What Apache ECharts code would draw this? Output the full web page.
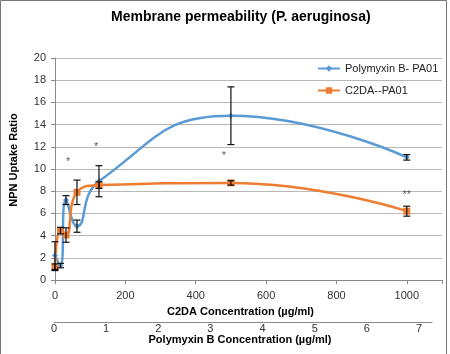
<!DOCTYPE html>
<html>
<head>
<meta charset="utf-8">
<script src="https://cdn.jsdelivr.net/npm/echarts@6/dist/echarts.min.js"></script>
<style>
  html, body, #main { width: 450px; height: 354px; margin: 0; background: #fff; }
</style>
</head>
<body>
<div id="main"></div>
<script>
// C2DA concentration (ug/ml) used as x for both series
var conc = [0, 15.6, 31.25, 62.5, 125, 500, 1000];
var polyVals = [2.2, 1.3, 7.2, 4.85, 8.9, 14.8, 11.05];
var polyErr = [1.25, 0.2, 0.4, 0.55, 1.4, 2.6, 0.25];
var c2daVals = [1.15, 4.45, 4.05, 7.9, 8.55, 8.75, 6.2];
var c2daErr = [0.3, 0.3, 0.65, 1.1, 0.3, 0.2, 0.45];

// significance marks
var starX = [37, 117, 480, 1000];
var starY = [10.6, 12.0, 11.2, 7.65];
var starText = ['*', '*', '*', '**'];

var font = 'Liberation Sans, Arial, sans-serif';

function pairs(xs, ys) {
  return xs.map(function (x, i) { return [x, ys[i]]; });
}

function errData(xs, ys, es) {
  return xs.map(function (x, i) { return [x, ys[i] - es[i], ys[i] + es[i]]; });
}

function errBars(params, api) {
  var lo = api.coord([api.value(0), api.value(1)]);
  var hi = api.coord([api.value(0), api.value(2)]);
  var w = 3.5;
  var st = { stroke: '#111', lineWidth: 1.2 };
  return {
    type: 'group',
    children: [
      { type: 'line', shape: { x1: lo[0], y1: lo[1], x2: hi[0], y2: hi[1] }, style: st },
      { type: 'line', shape: { x1: lo[0] - w, y1: lo[1], x2: lo[0] + w, y2: lo[1] }, style: st },
      { type: 'line', shape: { x1: hi[0] - w, y1: hi[1], x2: hi[0] + w, y2: hi[1] }, style: st }
    ]
  };
}

var chart = echarts.init(document.getElementById('main'));

var option = {
  animation: false,
  textStyle: { fontFamily: font },
  title: {
    text: 'Membrane permeability (P. aeruginosa)',
    left: 106, top: 5,
    textStyle: { fontSize: 14, fontWeight: 'bold', color: '#000', fontFamily: font }
  },
  legend: {
    orient: 'vertical',
    left: 312, top: 58,
    itemGap: 11,
    itemWidth: 22, itemHeight: 8,
    textStyle: { fontSize: 11, color: '#222' },
    data: ['Polymyxin B- PA01', 'C2DA--PA01']
  },
  grid: [
    { left: 55, right: 8, top: 58, bottom: 74 },
    { left: 54, width: 378, top: 321, height: 1 }
  ],
  xAxis: [{
    type: 'value', gridIndex: 0,
    min: 0, max: 1100, interval: 200,
    name: 'C2DA Concentration (µg/ml)',
    nameLocation: 'middle', nameGap: 26,
    nameTextStyle: { fontSize: 11, fontWeight: 'bold', color: '#000', padding: [0, 16, 0, 0] },
    axisLine: { lineStyle: { color: '#888' } },
    axisTick: { show: true, length: 4, lineStyle: { color: '#888' } },
    axisLabel: { fontSize: 11, color: '#333', margin: 10,
      formatter: function (v) { return v > 1000 ? '' : v; } },
    splitLine: { show: false }
  }, {
    type: 'value', gridIndex: 1,
    min: 0, max: 7.25, interval: 1,
    position: 'bottom',
    name: 'Polymyxin B Concentration (µg/ml)',
    nameLocation: 'middle', nameGap: 12,
    nameTextStyle: { fontSize: 11, fontWeight: 'bold', color: '#000', padding: [0, 6, 0, 0] },
    axisLine: { lineStyle: { color: '#888' } },
    axisTick: { show: false },
    axisLabel: { fontSize: 11, color: '#333', margin: 1,
      formatter: function (v) { return v > 7 ? '' : v; } },
    splitLine: { show: false }
  }],
  yAxis: [{
    type: 'value', gridIndex: 0,
    min: 0, max: 20, interval: 2,
    name: 'NPN Uptake Ratio',
    nameLocation: 'middle', nameGap: 36,
    nameTextStyle: { fontSize: 11, fontWeight: 'bold', color: '#000', padding: [0, 0, 0, 18] },
    axisLine: { show: true, lineStyle: { color: '#888' } },
    axisTick: { show: true, length: 4, lineStyle: { color: '#888' } },
    axisLabel: { fontSize: 11, color: '#333', margin: 9 },
    splitLine: { lineStyle: { color: '#b8b8b8', width: 1 } }
  }, {
    type: 'value', gridIndex: 1, show: false, min: 0, max: 1
  }],
  series: [{
    name: 'Polymyxin B- PA01',
    type: 'line',
    smooth: 0.5,
    data: pairs(conc, polyVals),
    symbol: 'diamond', symbolSize: 6,
    itemStyle: { color: '#5B9BD5' },
    lineStyle: { color: '#5B9BD5', width: 2.5 },
    z: 3
  }, {
    name: 'C2DA--PA01',
    type: 'line',
    smooth: 0.5,
    data: pairs(conc, c2daVals),
    symbol: 'rect', symbolSize: 7,
    itemStyle: { color: '#ED7D31' },
    lineStyle: { color: '#ED7D31', width: 2.5 },
    z: 3
  }, {
    type: 'custom',
    renderItem: errBars,
    data: errData(conc, polyVals, polyErr),
    encode: { x: 0, y: [1, 2] },
    z: 5, silent: true
  }, {
    type: 'custom',
    renderItem: errBars,
    data: errData(conc, c2daVals, c2daErr),
    encode: { x: 0, y: [1, 2] },
    z: 5, silent: true
  }, {
    type: 'scatter',
    symbolSize: 0,
    data: starX.map(function (x, i) { return { value: [x, starY[i]], name: starText[i] }; }),
    label: { show: true, position: 'inside', formatter: '{b}', fontSize: 11, color: '#333' },
    silent: true
  }],
  graphic: [{
    type: 'rect',
    shape: { x: 0.5, y: 0.5, width: 446, height: 360 },
    style: { fill: 'none', stroke: '#777', lineWidth: 1 },
    silent: true
  }]
};

chart.setOption(option);
window.onresize = chart.resize;
</script>
</body>
</html>
